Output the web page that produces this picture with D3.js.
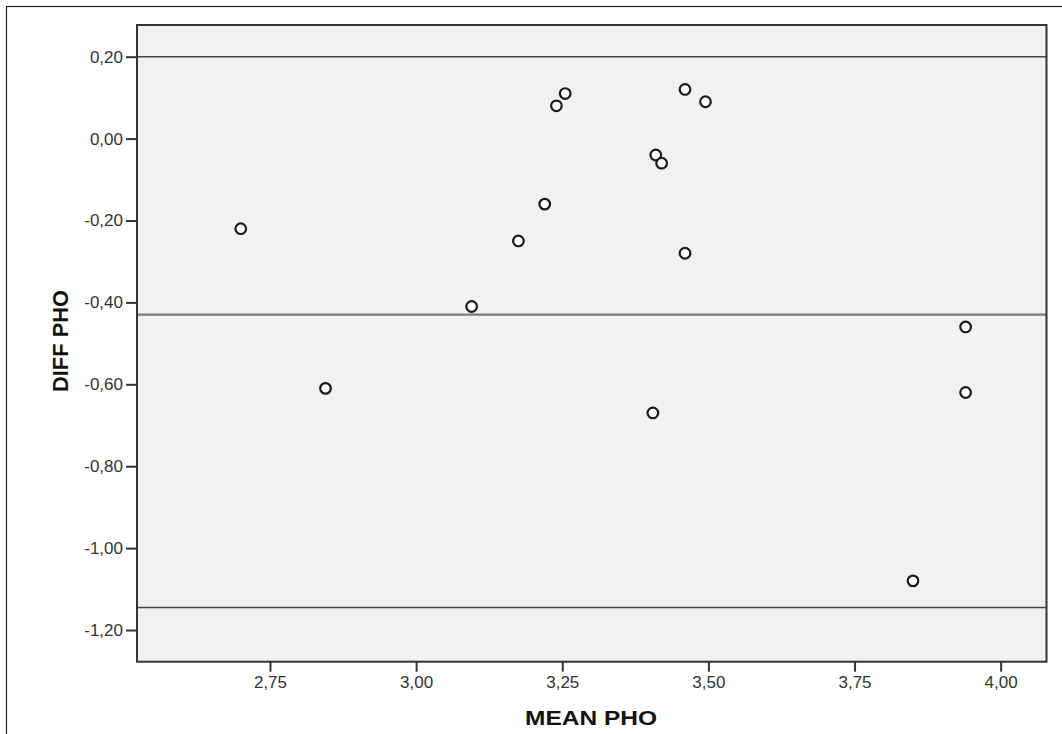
<!DOCTYPE html>
<html>
<head>
<meta charset="utf-8">
<script src="https://cdn.jsdelivr.net/npm/d3@7"></script>
<style>
  body { margin: 0; background: #fff; }
  svg { display: block; font-family: "Liberation Sans", Arial, sans-serif; }
</style>
</head>
<body>
<div id="chart"></div>
<script>
// Datos
const meanPho = [2.70, 2.845, 3.095, 3.175, 3.22, 3.24, 3.255, 3.405, 3.41, 3.42, 3.46, 3.46, 3.495, 3.85, 3.94, 3.94];
const diffPho = [-0.22, -0.61, -0.41, -0.25, -0.16, 0.08, 0.11, -0.67, -0.04, -0.06, 0.12, -0.28, 0.09, -1.08, -0.46, -0.62];
const refLines = [0.20, -0.43, -1.145];
const xTicks = [2.75, 3.00, 3.25, 3.50, 3.75, 4.00];
const yTicks = [0.20, 0.00, -0.20, -0.40, -0.60, -0.80, -1.00, -1.20];

const width = 1062;
const height = 734;
const plot = { left: 137, top: 25, right: 1046.5, bottom: 661.7 };

const locale = d3.formatLocale({ decimal: ",", thousands: ".", grouping: [3], currency: ["", ""], minus: "-" });
const fmt = locale.format(".2f");

const svg = d3.select("div#chart").append("svg")
  .attr("width", width)
  .attr("height", height);

// Marco exterior
svg.append("rect")
  .attr("x", 6.5).attr("y", 6.5)
  .attr("width", width + 10).attr("height", height + 10)
  .attr("fill", "none").attr("stroke", "#222").attr("stroke-width", 1.2);

// Escalas
const x = d3.scaleLinear().domain([2.5225, 4.0784]).range([plot.left, plot.right]);
const y = d3.scaleLinear().domain([-1.2774, 0.2774]).range([plot.bottom, plot.top]);

// Fondo del área
svg.append("rect")
  .attr("x", plot.left).attr("y", plot.top)
  .attr("width", plot.right - plot.left).attr("height", plot.bottom - plot.top)
  .attr("fill", "#f0f1f1");

// Líneas de referencia
svg.append("g").selectAll("line")
  .data(refLines)
  .join("line")
  .attr("x1", plot.left).attr("x2", plot.right)
  .attr("y1", d => y(d)).attr("y2", d => y(d))
  .attr("stroke", (d, i) => (i == 1 ? "#7a7a7a" : "#444"))
  .attr("stroke-width", (d, i) => (i == 1 ? 2.2 : 1.6));

// Borde del área
svg.append("rect")
  .attr("x", plot.left).attr("y", plot.top)
  .attr("width", plot.right - plot.left).attr("height", plot.bottom - plot.top)
  .attr("fill", "none").attr("stroke", "#333").attr("stroke-width", 2);

// Ejes
const xAxis = d3.axisBottom(x).tickValues(xTicks).tickFormat(fmt).tickSize(10).tickPadding(4);
const yAxis = d3.axisLeft(y).tickValues(yTicks).tickFormat(fmt).tickSize(11).tickPadding(3);

const xAxisGroup = svg.append("g")
  .attr("transform", `translate(0, ${plot.bottom})`)
  .call(xAxis);
const yAxisGroup = svg.append("g")
  .attr("transform", `translate(${plot.left}, 0)`)
  .call(yAxis);

[xAxisGroup, yAxisGroup].forEach(g => {
  g.select(".domain").remove();
  g.selectAll(".tick line").attr("stroke", "#333").attr("stroke-width", 2);
  g.selectAll(".tick text")
    .attr("fill", "#333")
    .style("font-size", "17px")
    .style("font-family", "'Liberation Sans', Arial, sans-serif");
});

// Puntos
svg.append("g").selectAll("circle")
  .data(meanPho.map((m, i) => ({ m: m, d: diffPho[i] })))
  .join("circle")
  .attr("cx", d => x(d.m))
  .attr("cy", d => y(d.d))
  .attr("r", 5.3)
  .attr("fill", "#fff")
  .attr("stroke", "#1a1a1a")
  .attr("stroke-width", 2.2);

// Títulos de los ejes
svg.append("text")
  .attr("x", 591).attr("y", 725)
  .attr("text-anchor", "middle")
  .attr("textLength", 132).attr("lengthAdjust", "spacingAndGlyphs")
  .style("font-size", "21px").style("font-weight", "bold")
  .attr("fill", "#111")
  .text("MEAN PHO");

svg.append("text")
  .attr("transform", "translate(68, 341) rotate(-90)")
  .attr("text-anchor", "middle")
  .attr("textLength", 102).attr("lengthAdjust", "spacingAndGlyphs")
  .style("font-size", "22px").style("font-weight", "bold")
  .attr("fill", "#111")
  .text("DIFF PHO");
</script>
</body>
</html>
